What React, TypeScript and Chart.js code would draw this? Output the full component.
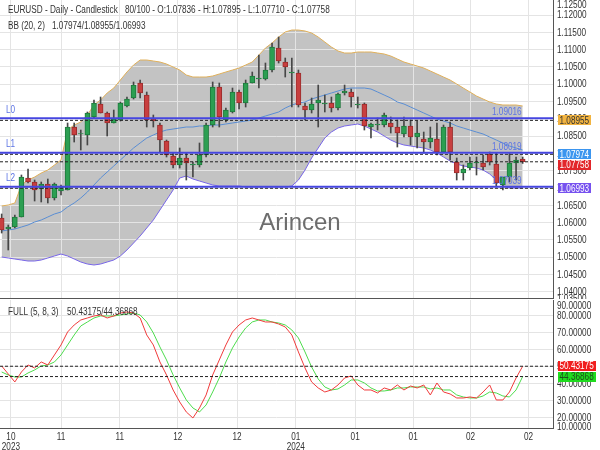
import React, { useEffect, useRef } from "react";
import { Chart, registerables } from "chart.js";
Chart.register(...registerables);

const SANS = "'Liberation Sans', Arial, sans-serif";
const SQUEEZE = 0.82; // narrow-face look

// ---------- data ----------
const OPEN = [1.06133,1.05815,1.05873,1.06162,1.07289,1.07174,1.06971,1.07116,1.06711,1.06913,
1.06942,1.08763,1.08561,1.08532,1.09052,1.09428,1.09168,1.08879,1.08965,1.09370,
1.09601,1.10035,1.09688,1.08994,1.08821,1.08358,1.07925,1.07665,1.07867,1.07665,
1.07665,1.07954,1.08821,1.09919,1.08965,1.09197,1.09775,1.09457,1.10035,1.10150,
1.10150,1.10410,1.11046,1.10642,1.10324,1.10324,1.09370,1.09254,1.09457,1.09428,
1.09457,1.09312,1.09746,1.09775,1.09399,1.09428,1.08763,1.08821,1.08821,1.08879,
1.08763,1.08561,1.08792,1.08474,1.08416,1.08329,1.08416,1.08040,1.08763,1.07751,
1.07434,1.07578,1.07723,1.07723,1.07983,1.07694,1.07087,1.07318,1.07723,1.07836];

const HIGH = [1.06249,1.05931,1.06220,1.07376,1.07549,1.07231,1.07174,1.07260,1.07145,1.07087,
1.08879,1.08879,1.08676,1.09197,1.09543,1.09630,1.09197,1.09254,1.09486,1.09630,
1.10064,1.10121,1.09775,1.09110,1.08879,1.08387,1.08012,1.08156,1.08012,1.07751,
1.08301,1.08879,1.10064,1.10035,1.09312,1.09890,1.09832,1.10121,1.10353,1.10844,
1.10613,1.11191,1.11364,1.10757,1.10757,1.10410,1.09457,1.09601,1.09977,1.09688,
1.09630,1.09746,1.09977,1.09861,1.09630,1.09457,1.08879,1.09023,1.09168,1.09052,
1.08965,1.09052,1.08965,1.08936,1.08618,1.08763,1.08879,1.08821,1.08908,1.07867,
1.07665,1.07896,1.07896,1.07954,1.08040,1.08012,1.07318,1.08012,1.07896,1.07895];

const LOW = [1.05699,1.05208,1.05844,1.06162,1.07145,1.06624,1.06596,1.06567,1.06653,1.06798,
1.06942,1.08329,1.08098,1.08243,1.09023,1.09168,1.08503,1.08879,1.08936,1.09341,
1.09572,1.09601,1.08763,1.08763,1.08040,1.07896,1.07578,1.07578,1.07231,1.07318,
1.07607,1.07896,1.08763,1.08763,1.08908,1.09168,1.09283,1.09341,1.10035,1.09890,
1.10121,1.10353,1.10613,1.10208,1.09341,1.09341,1.08965,1.09168,1.08763,1.09197,
1.09197,1.09254,1.09688,1.09341,1.09312,1.08676,1.08445,1.08676,1.08763,1.08590,
1.08185,1.08474,1.08243,1.08156,1.08012,1.08156,1.07954,1.08012,1.07809,1.07231,
1.07231,1.07520,1.07376,1.07520,1.07665,1.07029,1.06942,1.07174,1.07231,1.07710];

const CLOSE = [1.05786,1.05873,1.06162,1.07318,1.07174,1.06942,1.07116,1.06711,1.07116,1.07029,
1.08763,1.08532,1.08575,1.09168,1.09457,1.09168,1.08879,1.08994,1.09457,1.09572,
1.09977,1.09746,1.08965,1.08936,1.08387,1.07954,1.07665,1.07867,1.07723,1.07694,
1.07954,1.08821,1.09919,1.09052,1.09254,1.09775,1.09457,1.10035,1.10237,1.10179,
1.10410,1.11075,1.10671,1.10497,1.10353,1.09399,1.09254,1.09428,1.09543,1.09457,
1.09312,1.09717,1.09803,1.09630,1.09428,1.08792,1.08850,1.08850,1.09110,1.08763,
1.08590,1.08792,1.08474,1.08590,1.08329,1.08445,1.08040,1.08763,1.08040,1.07434,
1.07549,1.07723,1.07751,1.07607,1.07751,1.07145,1.07318,1.07723,1.07809,1.07758];

const BB_UPPER = [1.06480,1.06509,1.06567,1.07087,1.07231,1.07318,1.07434,1.07520,1.07665,1.07809,
1.08676,1.08821,1.08908,1.09110,1.09399,1.09543,1.09746,1.09890,1.10121,1.10353,
1.10555,1.10699,1.10699,1.10671,1.10642,1.10584,1.10497,1.10410,1.10266,1.10208,
1.10208,1.10208,1.10237,1.10295,1.10353,1.10410,1.10468,1.10555,1.10642,1.10844,
1.11046,1.11191,1.11364,1.11509,1.11566,1.11566,1.11538,1.11480,1.11364,1.11220,
1.11075,1.10960,1.10902,1.10902,1.10931,1.10931,1.10931,1.10902,1.10873,1.10815,
1.10728,1.10642,1.10584,1.10526,1.10468,1.10382,1.10295,1.10208,1.10121,1.10006,
1.09890,1.09775,1.09659,1.09572,1.09486,1.09428,1.09399,1.09399,1.09399,1.09370];

const BB_MID = [1.05757,1.05786,1.05815,1.05873,1.05931,1.06017,1.06075,1.06162,1.06249,1.06306,
1.06451,1.06567,1.06711,1.06884,1.07087,1.07289,1.07462,1.07636,1.07809,1.07983,
1.08156,1.08301,1.08445,1.08532,1.08618,1.08676,1.08705,1.08734,1.08763,1.08763,
1.08792,1.08792,1.08821,1.08821,1.08850,1.08879,1.08908,1.08936,1.08965,1.09023,
1.09081,1.09139,1.09197,1.09312,1.09399,1.09457,1.09486,1.09572,1.09630,1.09688,
1.09746,1.09803,1.09861,1.09890,1.09890,1.09890,1.09861,1.09775,1.09688,1.09601,
1.09486,1.09428,1.09341,1.09254,1.09168,1.09081,1.08994,1.08936,1.08879,1.08792,
1.08734,1.08676,1.08618,1.08561,1.08474,1.08387,1.08301,1.08214,1.08156,1.08098];

const BB_LOWER = [1.05006,1.04977,1.04948,1.04919,1.04890,1.04890,1.04919,1.04977,1.05035,1.05092,
1.05035,1.04948,1.04861,1.04803,1.04775,1.04803,1.04861,1.04919,1.05035,1.05208,
1.05410,1.05613,1.05844,1.06075,1.06364,1.06653,1.06942,1.07289,1.07347,1.07260,
1.07202,1.07145,1.07087,1.07058,1.07058,1.07058,1.07058,1.07029,1.07029,1.07029,
1.07029,1.07029,1.07029,1.07029,1.07058,1.07231,1.07520,1.07867,1.08156,1.08445,
1.08618,1.08734,1.08792,1.08821,1.08850,1.08792,1.08705,1.08618,1.08503,1.08387,
1.08301,1.08243,1.08214,1.08185,1.08156,1.08098,1.08012,1.07896,1.07780,1.07694,
1.07636,1.07607,1.07578,1.07520,1.07405,1.07231,1.07058,1.07000,1.07000,1.07000];

const STOCH_K = [50.59,45.88,41.18,47.06,51.18,49.41,52.94,51.18,57.06,62.94,
70.59,74.71,77.65,78.82,80.00,80.59,78.82,80.00,81.76,82.35,
81.76,78.82,68.82,62.94,52.94,45.29,36.47,29.41,23.53,20.00,
25.88,33.53,45.29,54.12,62.94,70.59,74.71,77.65,78.82,77.65,
76.47,76.47,75.29,73.53,68.82,58.82,49.41,41.18,37.65,35.29,
36.47,39.41,43.53,44.71,39.41,36.47,36.47,34.71,37.65,36.47,
39.41,36.47,38.82,37.65,39.41,33.53,40.59,35.29,34.12,31.76,
31.76,32.35,31.76,35.29,39.41,30.59,30.59,35.29,43.53,50.43175];

const STOCH_D = [47.06,45.29,44.12,44.12,46.47,48.24,50.59,51.18,52.94,57.06,
62.94,68.82,74.12,76.47,78.82,80.00,80.00,80.00,80.59,81.18,
81.76,80.59,76.47,70.00,61.76,54.12,45.29,37.65,30.59,25.88,
23.53,27.65,35.29,43.53,52.94,61.18,67.65,72.94,76.47,77.65,
77.65,76.47,75.88,74.71,71.76,67.06,58.82,50.00,42.94,38.24,
36.47,37.06,39.41,42.35,42.35,40.59,37.65,35.88,35.88,36.47,
37.65,37.65,38.24,38.24,38.24,37.06,37.65,36.47,36.47,33.53,
32.35,31.76,31.76,32.94,35.29,34.71,32.94,32.35,36.47,44.36868];

const BB_LAST = [1.07974, 1.08955, 1.06993]; // mid / upper / lower
const LEVEL_NAMES = ["L0", "L1", "L2"];
const LEVEL_VALUES = [1.09016, 1.08019, 1.07039];

const X_TICKS = [1.4, 9.0, 17.9, 26.7, 35.7, 44.6, 53.6, 62.4, 71.1, 79.9];
const X_LABELS = [["10", "2023"], ["11"], ["11"], ["12"], ["12"], ["01", "2024"], ["01"], ["01"], ["02"], ["02"]];
const PRICE_TICKS = [1.125, 1.12, 1.115, 1.11, 1.105, 1.1, 1.095, 1.09, 1.085, 1.08, 1.075, 1.07, 1.065, 1.06, 1.055, 1.05, 1.045, 1.04, 1.035];
const STOCH_TICKS = [90, 80, 70, 60, 50, 40, 30, 20, 10];

// ---------- axis ranges ----------
const X_MIN = -0.25, X_MAX = 83.6;
const PRICE_MIN = 1.03792, PRICE_MAX = 1.12434;
const STOCH_MIN = 14.1, STOCH_MAX = 89.4;

const GRID = "#e4e4e4";
const AXIS = "#555";
const N = OPEN.length;
const last = N - 1;

const pts = (arr: number[]) => arr.map((v, i) => ({ x: i, y: v }));
const flat = (v: number) => [{ x: X_MIN, y: v }, { x: X_MAX, y: v }];

function placeTicks(values: number[], min: number, max: number, topPx: number, botPx: number, areaPx: number) {
  const r = max - min;
  const hi = max - (r * topPx) / areaPx;
  const lo = min + (r * botPx) / areaPx;
  return values.map((v) => ({ value: Math.min(hi, Math.max(lo, v)) }));
}

function nText(ctx: any, text: string, x: number, y: number, align: string, baseline: string, color: string, size = 10) {
  ctx.save();
  ctx.translate(x, y);
  ctx.scale(SQUEEZE, 1);
  ctx.font = `${size}px ${SANS}`;
  ctx.fillStyle = color;
  ctx.textAlign = align;
  ctx.textBaseline = baseline;
  ctx.fillText(text, 0, 0);
  ctx.restore();
}

function nWidth(ctx: any, text: string, size = 10) {
  ctx.save();
  ctx.font = `${size}px ${SANS}`;
  const w = ctx.measureText(text).width * SQUEEZE;
  ctx.restore();
  return w;
}

function drawYLabels(chart: any, labels: number[]) {
  const ys = chart.scales.y;
  const x = chart.chartArea.right + 4;
  ys.ticks.forEach((t: any, i: number) => {
    nText(chart.ctx, labels[i].toFixed(5), x, ys.getPixelForValue(t.value) + 0.5, "left", "middle", "#333");
  });
}

function drawTags(chart: any, tags: { v: number; bg: string; fg: string }[]) {
  const ys = chart.scales.y;
  const items = tags.map((t) => ({ ...t, py: ys.getPixelForValue(t.v) })).sort((a, b) => a.py - b.py);
  for (let i = 1; i < items.length; i++) {
    if (items[i].py - items[i - 1].py < 10.5) items[i].py = items[i - 1].py + 10.5;
  }
  const ctx = chart.ctx;
  const x0 = chart.chartArea.right + 5;
  for (const it of items) {
    const label = it.v.toFixed(5);
    ctx.fillStyle = it.bg;
    ctx.fillRect(x0, Math.round(it.py - 5), Math.ceil(nWidth(ctx, label) + 3), 10);
    nText(ctx, label, x0 + 1.5, it.py + 0.5, "left", "middle", it.fg);
  }
}

const mainPlugin = {
  id: "mainDecor",
  beforeDatasetsDraw(chart: any) {
    const ctx = chart.ctx;
    ctx.save();
    ctx.font = `24px ${SANS}`;
    ctx.fillStyle = "#6d6d6d";
    ctx.textAlign = "center";
    ctx.textBaseline = "middle";
    ctx.fillText("Arincen", 300, 223);
    ctx.restore();
  },
  afterDatasetsDraw(chart: any) {
    const ys = chart.scales.y;
    const xs = chart.scales.x;
    LEVEL_VALUES.forEach((v, i) => {
      const py = ys.getPixelForValue(v);
      nText(chart.ctx, LEVEL_NAMES[i], 6, py - 5.5, "left", "alphabetic", "#5c74e4");
      nText(chart.ctx, v.toFixed(5), xs.getPixelForValue(last) - 1, py - 3, "right", "alphabetic", "#5c74e4");
    });
  },
  afterDraw(chart: any) {
    const ctx = chart.ctx;
    const area = chart.chartArea;
    ctx.save();
    ctx.fillStyle = AXIS;
    ctx.fillRect(0, area.bottom - 1, area.right, 1);
    ctx.restore();
    drawYLabels(chart, PRICE_TICKS);
    nText(ctx, "EURUSD - Daily - Candlestick", 8, 13, "left", "alphabetic", "#333");
    nText(ctx,
      `${N}/100 - O:${OPEN[last].toFixed(5)} - H:${HIGH[last].toFixed(5)} - L:${LOW[last].toFixed(5)} - C:${CLOSE[last].toFixed(5)}`,
      125, 13, "left", "alphabetic", "#333");
    nText(ctx, "BB (20, 2)", 8, 28.5, "left", "alphabetic", "#333");
    nText(ctx, BB_LAST.map((v) => v.toFixed(5)).join("/"), 52, 28.5, "left", "alphabetic", "#333");
    drawTags(chart, [
      { v: BB_LAST[1], bg: "#f2b441", fg: "#333" },
      { v: BB_LAST[0], bg: "#3b95ef", fg: "#fff" },
      { v: CLOSE[last], bg: "#e2262b", fg: "#fff" },
      { v: BB_LAST[2], bg: "#7651ef", fg: "#fff" },
    ]);
  },
};

const stochPlugin = {
  id: "stochDecor",
  afterDraw(chart: any) {
    const ctx = chart.ctx;
    drawYLabels(chart, STOCH_TICKS);
    const xs = chart.scales.x;
    const bottom = chart.chartArea.bottom;
    X_TICKS.forEach((v, i) => {
      const px = xs.getPixelForValue(v);
      X_LABELS[i].forEach((line, k) => nText(ctx, line, px, bottom + 9.5 + k * 10, "center", "middle", "#333"));
    });
    nText(ctx, "FULL (5, 8, 3)", 8, 16, "left", "alphabetic", "#333");
    nText(ctx, `${STOCH_K[last].toFixed(5)}/${STOCH_D[last].toFixed(5)}`, 67, 16, "left", "alphabetic", "#333");
    drawTags(chart, [
      { v: STOCH_K[last], bg: "#f01e1e", fg: "#fff" },
      { v: STOCH_D[last], bg: "#1fdc1f", fg: "#1d4d1d" },
    ]);
  },
};

const upColor = "#2c9f52", downColor = "#c83f3f";
const upBorder = "#1f7a3d", downBorder = "#9c2d2d";

function xScale(): any {
  return {
    type: "linear", min: X_MIN, max: X_MAX, offset: false,
    afterBuildTicks: (s: any) => { s.ticks = X_TICKS.map((v) => ({ value: v })); },
    ticks: { display: false, autoSkip: false },
    grid: { color: GRID, drawTicks: false, offset: false },
    border: { display: true, color: AXIS },
  };
}

function yScale(ticks: number[], min: number, max: number, topPx: number, botPx: number, area: number): any {
  return {
    type: "linear", position: "right", min, max,
    afterBuildTicks: (s: any) => { s.ticks = placeTicks(ticks, min, max, topPx, botPx, area); },
    ticks: { display: false, autoSkip: false },
    grid: {
      drawTicks: false,
      color: (c: any) => (c.index === 0 || c.index === ticks.length - 1 ? "rgba(0,0,0,0)" : GRID),
    },
    border: { display: true, color: AXIS },
    afterFit: (s: any) => { s.width = 47; s.paddingTop = 0; s.paddingBottom = 0; },
  };
}

function mainConfig(): any {
  const isUp = CLOSE.map((c, i) => c >= OPEN[i]);
  return {
    type: "bar",
    data: {
      datasets: [
        { type: "line", data: pts(BB_UPPER), borderColor: "#e0b05a", borderWidth: 1, pointRadius: 0, fill: "+1", backgroundColor: "#c3c3c3", order: 10 },
        { type: "line", data: pts(BB_LOWER), borderColor: "#7866e8", borderWidth: 1, pointRadius: 0, fill: false, order: 10 },
        { type: "line", data: pts(BB_MID), borderColor: "#5a8ed4", borderWidth: 1, pointRadius: 0, fill: false, order: 9 },
        { type: "bar", data: LOW.map((l, i) => ({ x: i, y: [l, HIGH[i]] })), backgroundColor: "#474747", barThickness: 1, grouped: false, order: 6 },
        {
          type: "bar",
          data: OPEN.map((o, i) => ({ x: i, y: [o, CLOSE[i]] })),
          backgroundColor: isUp.map((u) => (u ? upColor : downColor)),
          borderColor: isUp.map((u) => (u ? upBorder : downBorder)),
          borderWidth: 1, borderSkipped: false, barThickness: 5, grouped: false, order: 5,
        },
        ...[BB_LAST[1], BB_LAST[0], CLOSE[last], BB_LAST[2]].map((v) => ({
          type: "line", data: flat(v), borderColor: "#222", borderWidth: 1, borderDash: [3, 2], pointRadius: 0, fill: false, order: 2,
        })),
        ...LEVEL_VALUES.map((v) => ({
          type: "line", data: flat(v), borderColor: "#4646e0", borderWidth: 2, pointRadius: 0, fill: false, order: 1,
        })),
      ],
    },
    options: {
      responsive: false, animation: false, devicePixelRatio: 1,
      layout: { padding: 0 },
      events: [],
      plugins: { legend: { display: false }, tooltip: { enabled: false }, filler: { drawTime: "beforeDraw" } },
      scales: {
        x: { ...xScale(), afterFit: (s: any) => { s.height = 0; s.paddingLeft = 0; s.paddingRight = 0; } },
        y: yScale(PRICE_TICKS, PRICE_MIN, PRICE_MAX, 5, 0, 299),
      },
    },
    plugins: [mainPlugin],
  };
}

function stochConfig(): any {
  return {
    type: "line",
    data: {
      datasets: [
        { data: pts(STOCH_K), borderColor: "#f03a3a", borderWidth: 1, pointRadius: 0, fill: false, order: 3 },
        { data: pts(STOCH_D), borderColor: "#4ddc4d", borderWidth: 1, pointRadius: 0, fill: false, order: 4 },
        ...[STOCH_K[last], STOCH_D[last]].map((v) => ({
          data: flat(v), borderColor: "#222", borderWidth: 1, borderDash: [3, 2], pointRadius: 0, fill: false, order: 1,
        })),
      ],
    },
    options: {
      responsive: false, animation: false, devicePixelRatio: 1,
      layout: { padding: { top: 1, left: 0, right: 0, bottom: 0 } },
      events: [],
      plugins: { legend: { display: false }, tooltip: { enabled: false } },
      scales: {
        x: { ...xScale(), afterFit: (s: any) => { s.height = 22; s.paddingLeft = 0; s.paddingRight = 0; } },
        y: yScale(STOCH_TICKS, STOCH_MIN, STOCH_MAX, 6, 1.5, 128),
      },
    },
    plugins: [stochPlugin],
  };
}

export default function App() {
  const mainRef = useRef<HTMLCanvasElement>(null);
  const stochRef = useRef<HTMLCanvasElement>(null);
  useEffect(() => {
    const a = new Chart(mainRef.current as HTMLCanvasElement, mainConfig());
    const b = new Chart(stochRef.current as HTMLCanvasElement, stochConfig());
    return () => { a.destroy(); b.destroy(); };
  }, []);
  return (
    <div style={{ position: "absolute", left: 0, top: 0, width: 600, height: 450, background: "#fff", overflow: "hidden" }}>
      <canvas ref={mainRef} width={600} height={299} style={{ position: "absolute", left: 0, top: 0, width: 600, height: 299 }} />
      <canvas ref={stochRef} width={600} height={151} style={{ position: "absolute", left: 0, top: 299, width: 600, height: 151 }} />
    </div>
  );
}
